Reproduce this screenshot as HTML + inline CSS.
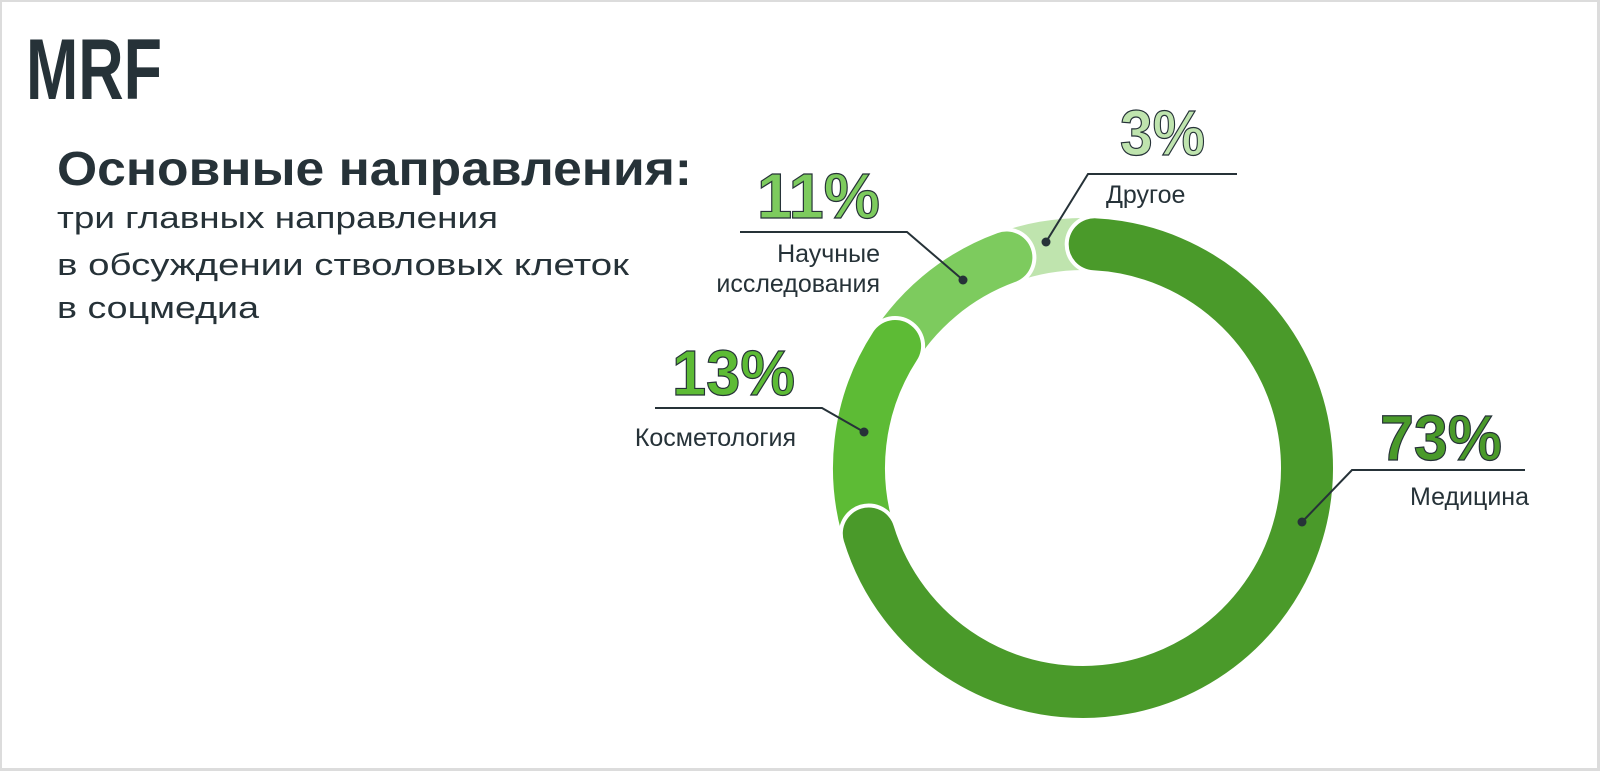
<!DOCTYPE html>
<html><head><meta charset="utf-8"><style>
html,body{margin:0;padding:0;background:#dcdcdc;}
svg{display:block}
</style></head><body>
<svg width="1600" height="771" viewBox="0 0 1600 771" xmlns="http://www.w3.org/2000/svg" font-family="Liberation Sans, DejaVu Sans, sans-serif">
<rect x="2" y="2" width="1595" height="766" fill="#fff"/>
<text x="26" y="99" font-size="86" font-weight="bold" fill="#263238" textLength="136" lengthAdjust="spacingAndGlyphs">MRF</text>
<text x="57" y="185" font-size="48" font-weight="bold" fill="#263238" textLength="635" lengthAdjust="spacingAndGlyphs">Основные направления:</text>
<g font-size="31" fill="#263238">
<text x="57" y="228" textLength="441" lengthAdjust="spacingAndGlyphs">три главных направления</text>
<text x="57" y="275" textLength="572" lengthAdjust="spacingAndGlyphs">в обсуждении стволовых клеток</text>
<text x="57" y="318" textLength="202" lengthAdjust="spacingAndGlyphs">в соцмедиа</text>
</g>
<g fill="none" stroke-width="52" stroke-linecap="round">
<path d="M971,274 A224,224 0 0 1 1121.9,247.4" stroke="#bfe4ae" stroke-linecap="butt"/>
<path d="M889,356 A224,224 0 0 1 1006.4,257.5" stroke="#fff" stroke-width="60"/>
<path d="M889,356 A224,224 0 0 1 1006.4,257.5" stroke="#7dcb5e"/>
<path d="M872.5,544.6 A224,224 0 0 1 895.1,346" stroke="#fff" stroke-width="60"/>
<path d="M872.5,544.6 A224,224 0 0 1 895.1,346" stroke="#5dbb35"/>
<path d="M1094.7,244.3 A224,224 0 1 1 868.8,533.5" stroke="#fff" stroke-width="60"/>
<path d="M1094.7,244.3 A224,224 0 1 1 868.8,533.5" stroke="#4a9a2a"/>
</g>
<g stroke="#263238" stroke-width="2" fill="none">
<polyline points="740,232 907,232 963,280"/>
<polyline points="1237,174 1088,174 1046,242"/>
<polyline points="655,408 822,408 864,432"/>
<polyline points="1525,470 1352,470 1302,522"/>
</g>
<g fill="#263238">
<circle cx="963" cy="280" r="4.5"/><circle cx="1046" cy="242" r="4.5"/>
<circle cx="864" cy="432" r="4.5"/><circle cx="1302" cy="522" r="4.5"/>
</g>
<g font-size="64" font-weight="bold" stroke="#263238" stroke-width="1.2">
<text x="757" y="218" fill="#7dcb5e" textLength="123" lengthAdjust="spacingAndGlyphs">11%</text>
<text x="1120" y="155" fill="#bfe4ae" textLength="85" lengthAdjust="spacingAndGlyphs">3%</text>
<text x="672" y="395" fill="#5dbb35" textLength="123" lengthAdjust="spacingAndGlyphs">13%</text>
<text x="1380" y="460" fill="#4a9a2a" textLength="122" lengthAdjust="spacingAndGlyphs">73%</text>
</g>
<g font-size="25" fill="#263238">
<text x="880" y="262" text-anchor="end">Научные</text>
<text x="880" y="292" text-anchor="end">исследования</text>
<text x="1106" y="203">Другое</text>
<text x="796" y="446" text-anchor="end">Косметология</text>
<text x="1410" y="505">Медицина</text>
</g>
</svg>
</body></html>
